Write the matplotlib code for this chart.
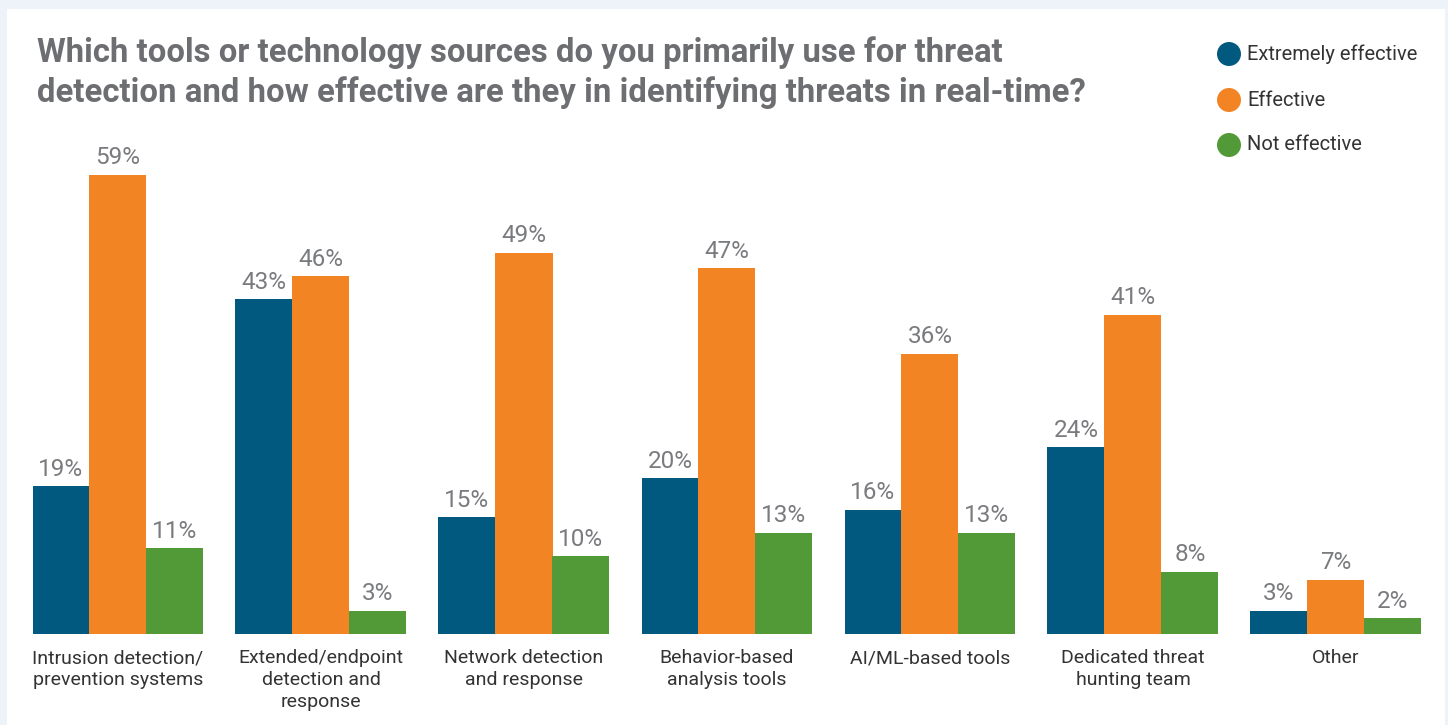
import matplotlib
matplotlib.use("Agg")
import matplotlib.pyplot as plt
import numpy as np
from matplotlib.patches import Rectangle, Ellipse

# data
categories = [
    "Intrusion detection/\nprevention systems",
    "Extended/endpoint\ndetection and\nresponse",
    "Network detection\nand response",
    "Behavior-based\nanalysis tools",
    "AI/ML-based tools",
    "Dedicated threat\nhunting team",
    "Other",
]
series_names = ["Extremely effective", "Effective", "Not effective"]
extremely_effective = [19, 43, 15, 20, 16, 24, 3]
effective = [59, 46, 49, 47, 36, 41, 7]
not_effective = [11, 3, 10, 13, 13, 8, 2]

colors = ["#02597f", "#f28424", "#529a37"]
title = ("Which tools or technology sources do you primarily use for threat\n"
         "detection and how effective are they in identifying threats in real-time?")

plt.rcParams["font.family"] = ["Roboto", "DejaVu Sans"]

W, H = 1448, 725
fig = plt.figure(figsize=(W / 100, H / 100), dpi=100)
fig.patch.set_facecolor("#edf3f9")
# white panel
fig.add_artist(Rectangle((7 / W, 0), (1445 - 7) / W, (H - 9) / H,
                         transform=fig.transFigure, facecolor="white",
                         edgecolor="none", zorder=0))

base_px, top_px = 634, 100
px_per_pct = 7.78
ax = fig.add_axes([0, (H - base_px) / H, 1, (base_px - top_px) / H])
ax.set_facecolor("none")
ax.set_xlim(-118 / 203, (W - 118) / 203)
ax.set_ylim(0, (base_px - top_px) / px_per_pct)
ax.axis("off")

x = np.arange(len(categories))
bw = 57 / 203
for i, (vals, c) in enumerate(zip([extremely_effective, effective, not_effective], colors)):
    bars = ax.bar(x + (i - 1) * bw, vals, width=bw, color=c, linewidth=0)
    for b, v in zip(bars, vals):
        ax.annotate(f"{v}%", (b.get_x() + b.get_width() / 2, v),
                    xytext=(0, 4), textcoords="offset points",
                    ha="center", va="bottom", fontsize=17.5, color="#7a7b7e")

for xi, lab in zip(x, categories):
    ax.annotate(lab, (xi, 0), xytext=(0, -11), textcoords="offset points",
                ha="center", va="top", fontsize=14, color="#333333",
                linespacing=1.28, annotation_clip=False)

fig.text(37 / W, 1 - 36 / H, title, ha="left", va="top", fontsize=23.7,
         fontweight="bold", color="#6d6e71", linespacing=1.3)

# legend
for name, c, cy in zip(series_names, colors, [54, 100, 145]):
    fig.add_artist(Ellipse((1229 / W, 1 - cy / H), 24 / W, 24 / H,
                           transform=fig.transFigure, facecolor=c, edgecolor="none"))
    fig.text(1247 / W, 1 - cy / H, name, ha="left", va="center",
             fontsize=14.5, color="#333333")

fig.savefig("out.png", dpi=100, facecolor=fig.get_facecolor())
